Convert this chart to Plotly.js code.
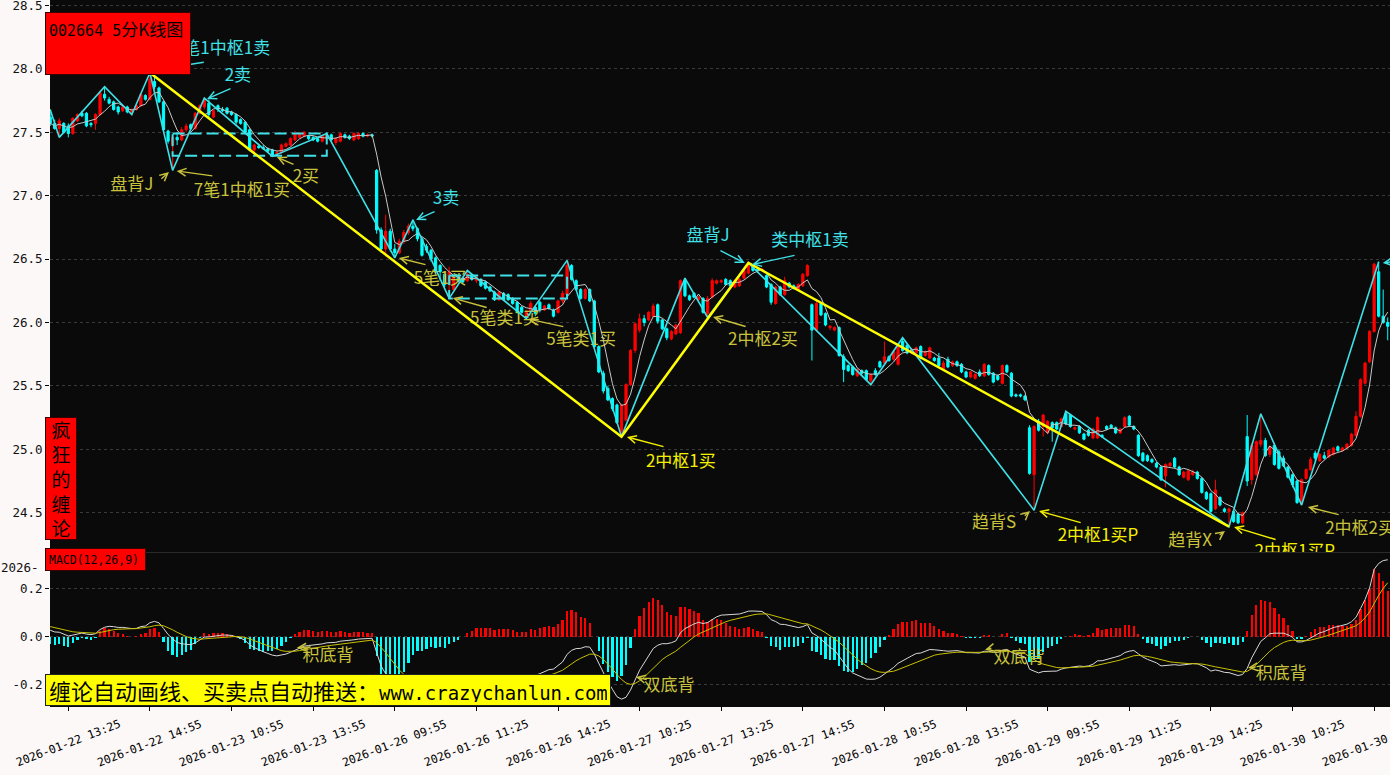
<!DOCTYPE html>
<html><head><meta charset="utf-8">
<script src="https://cdn.plot.ly/plotly-3.0.1.min.js"></script>
<style>html,body{margin:0;padding:0;background:#fcf8f7;}#chart{width:1390px;height:775px;}</style>
</head><body><div id="chart"></div>
<script>
// ---------------- DATA (5-minute bars, 002664, 2026-01-22 13:05 .. 2026-01-30 13:40) ----------------
const openP = [
27.62,27.57,27.53,27.57,27.55,27.49,27.59,27.65,27.65,27.57,27.57,27.64,27.80,27.76,27.74,27.70,27.67,27.70,27.66,27.68,27.71,27.79,27.76,27.90,
27.85,27.74,27.51,27.40,27.46,27.44,27.52,27.56,27.53,27.65,27.70,27.73,27.62,27.71,27.68,27.69,27.66,27.64,27.60,27.58,27.52,27.36,27.39,27.38,
27.37,27.36,27.33,27.34,27.39,27.40,27.44,27.46,27.47,27.47,27.46,27.45,27.43,27.45,27.48,27.42,27.43,27.48,27.47,27.44,27.45,27.49,27.47,27.48,
27.20,26.73,26.58,26.72,26.58,26.55,26.64,26.71,26.76,26.74,26.66,26.60,26.57,26.51,26.45,26.38,26.30,26.26,26.36,26.35,26.33,26.37,26.33,26.34,
26.32,26.28,26.24,26.18,26.23,26.22,26.19,26.16,26.12,26.05,26.09,26.12,26.16,26.10,26.14,26.10,26.08,26.17,26.22,26.45,26.33,26.26,26.19,26.26,
26.17,25.81,25.60,25.48,25.40,25.35,25.14,25.23,25.51,25.78,25.94,26.03,26.02,26.05,26.14,26.02,25.95,25.87,25.91,25.92,26.33,26.21,26.23,26.18,
26.19,26.07,26.20,26.31,26.32,26.34,26.33,26.28,26.29,26.35,26.39,26.44,26.42,26.41,26.37,26.30,26.15,26.28,26.22,26.31,26.29,26.26,26.29,26.37,
26.14,25.94,26.15,26.07,25.96,25.94,25.96,25.73,25.66,25.65,25.58,25.62,25.62,25.54,25.62,25.69,25.68,25.73,25.71,25.67,25.85,25.82,25.76,25.76,
25.81,25.74,25.72,25.72,25.72,25.63,25.71,25.66,25.69,25.67,25.61,25.57,25.56,25.61,25.58,25.66,25.60,25.58,25.52,25.66,25.60,25.43,25.43,25.42,
25.17,24.80,25.22,25.18,25.13,25.21,25.21,25.18,25.28,25.27,25.16,25.18,25.12,25.15,25.09,25.09,25.11,25.18,25.19,25.17,25.13,25.18,25.26,25.18,
25.11,24.97,24.95,24.92,24.89,24.86,24.79,24.87,24.93,24.86,24.78,24.76,24.80,24.82,24.77,24.66,24.65,24.53,24.62,24.53,24.51,24.51,24.49,24.42,
25.10,24.76,24.80,25.04,25.07,24.96,25.03,24.98,24.93,24.86,24.80,24.75,24.57,24.77,24.84,24.97,24.91,24.95,24.94,24.96,25.02,24.99,25.01,25.03,
25.11,25.26,25.52,25.69,25.93,26.40,26.05,26.00];
const highP = [
27.68,27.60,27.61,27.58,27.57,27.62,27.65,27.67,27.66,27.58,27.65,27.83,27.86,27.78,27.75,27.71,27.71,27.71,27.69,27.72,27.81,27.80,27.97,27.94,
27.86,27.75,27.52,27.47,27.50,27.54,27.57,27.57,27.66,27.72,27.77,27.76,27.68,27.72,27.70,27.70,27.67,27.65,27.61,27.59,27.53,27.41,27.41,27.40,
27.38,27.37,27.36,27.41,27.42,27.46,27.51,27.50,27.51,27.48,27.47,27.46,27.48,27.49,27.49,27.46,27.50,27.49,27.48,27.50,27.50,27.50,27.49,27.49,
27.21,26.75,26.85,26.74,26.62,26.66,26.73,26.78,26.81,26.75,26.67,26.62,26.58,26.52,26.46,26.40,26.44,26.37,26.37,26.36,26.41,26.38,26.37,26.35,
26.33,26.29,26.25,26.25,26.24,26.23,26.20,26.17,26.13,26.10,26.17,26.13,26.17,26.14,26.15,26.11,26.18,26.25,26.49,26.46,26.34,26.27,26.27,26.27,
26.18,25.82,25.62,25.50,25.41,25.36,25.36,25.52,25.79,26.00,26.07,26.06,26.09,26.15,26.15,26.03,25.96,25.94,25.99,26.34,26.35,26.22,26.24,26.21,
26.20,26.21,26.35,26.34,26.34,26.35,26.34,26.34,26.35,26.42,26.47,26.45,26.43,26.43,26.38,26.31,26.29,26.29,26.36,26.32,26.30,26.31,26.39,26.46,
26.15,26.17,26.16,26.08,25.98,25.97,25.97,25.75,25.67,25.66,25.64,25.63,25.63,25.60,25.64,25.70,25.85,25.74,25.78,25.83,25.88,25.83,25.80,25.81,
25.82,25.78,25.81,25.73,25.76,25.70,25.73,25.70,25.70,25.68,25.62,25.62,25.60,25.63,25.68,25.67,25.61,25.59,25.67,25.67,25.61,25.44,25.44,25.43,
25.19,25.19,25.24,25.28,25.23,25.22,25.22,25.25,25.30,25.28,25.18,25.19,25.13,25.16,25.17,25.26,25.12,25.19,25.20,25.18,25.17,25.26,25.27,25.19,
25.12,24.98,24.96,24.93,24.90,24.87,24.89,24.90,24.94,24.87,24.83,24.84,24.84,24.83,24.78,24.67,24.66,24.76,24.63,24.54,24.54,24.52,24.50,24.51,
25.27,25.05,25.07,25.28,25.09,25.03,25.05,25.00,24.95,24.87,24.81,24.76,24.77,24.85,24.94,24.99,24.97,24.98,25.00,25.02,25.03,25.02,25.05,25.13,
25.30,25.56,25.69,25.94,26.47,26.48,26.26,26.04];
const lowP = [
27.55,27.52,27.46,27.49,27.46,27.48,27.58,27.62,27.54,27.54,27.52,27.63,27.75,27.72,27.67,27.64,27.66,27.65,27.64,27.67,27.70,27.75,27.75,27.84,
27.73,27.51,27.41,27.20,27.40,27.43,27.50,27.52,27.52,27.64,27.68,27.62,27.61,27.66,27.66,27.64,27.63,27.56,27.56,27.49,27.35,27.34,27.37,27.36,
27.34,27.31,27.32,27.33,27.38,27.39,27.43,27.45,27.46,27.44,27.43,27.42,27.42,27.44,27.43,27.40,27.42,27.45,27.44,27.43,27.44,27.46,27.46,27.46,
26.70,26.55,26.52,26.56,26.51,26.54,26.62,26.69,26.72,26.64,26.52,26.55,26.48,26.38,26.33,26.28,26.19,26.25,26.32,26.31,26.32,26.33,26.31,26.28,
26.26,26.24,26.17,26.17,26.17,26.17,26.14,26.07,26.07,26.03,26.08,26.05,26.08,26.09,26.10,26.04,26.07,26.15,26.21,26.33,26.25,26.18,26.18,26.16,
25.80,25.60,25.44,25.38,25.30,25.20,25.10,25.22,25.50,25.76,25.92,25.97,26.01,26.04,25.99,25.94,25.86,25.86,25.90,25.91,26.20,26.17,26.19,26.17,
26.07,26.04,26.19,26.30,26.31,26.29,26.28,26.27,26.28,26.34,26.38,26.40,26.39,26.40,26.27,26.14,26.14,26.21,26.21,26.27,26.26,26.25,26.28,26.36,
25.70,25.93,26.05,25.97,25.94,25.93,25.73,25.53,25.61,25.58,25.57,25.58,25.54,25.51,25.58,25.64,25.67,25.69,25.70,25.66,25.77,25.75,25.75,25.75,
25.71,25.73,25.71,25.69,25.65,25.62,25.64,25.65,25.65,25.60,25.56,25.56,25.55,25.57,25.57,25.58,25.52,25.54,25.51,25.60,25.41,25.41,25.41,25.38,
24.80,24.52,25.14,25.10,25.12,25.06,25.15,25.17,25.19,25.17,25.15,25.12,25.07,25.10,25.08,25.08,25.09,25.15,25.16,25.12,25.12,25.17,25.18,25.15,
24.94,24.90,24.90,24.89,24.85,24.75,24.70,24.86,24.85,24.79,24.77,24.75,24.79,24.76,24.65,24.60,24.50,24.52,24.55,24.50,24.39,24.42,24.41,24.41,
24.71,24.72,24.79,25.02,24.94,24.94,24.87,24.84,24.86,24.77,24.70,24.57,24.56,24.76,24.83,24.91,24.90,24.92,24.93,24.95,24.98,24.98,25.00,25.02,
25.10,25.25,25.51,25.68,25.92,26.04,25.99,25.86];
const closeP = [
27.57,27.53,27.59,27.50,27.49,27.61,27.64,27.63,27.55,27.56,27.64,27.81,27.77,27.73,27.68,27.66,27.70,27.66,27.68,27.71,27.80,27.76,27.92,27.86,
27.74,27.52,27.43,27.46,27.44,27.52,27.55,27.53,27.65,27.71,27.75,27.64,27.67,27.68,27.67,27.65,27.64,27.58,27.57,27.50,27.36,27.40,27.38,27.37,
27.35,27.32,27.34,27.40,27.41,27.45,27.49,27.49,27.50,27.45,27.44,27.43,27.47,27.48,27.44,27.45,27.49,27.46,27.45,27.49,27.49,27.47,27.48,27.47,
26.73,26.58,26.72,26.58,26.55,26.64,26.71,26.76,26.74,26.66,26.53,26.57,26.50,26.40,26.40,26.30,26.40,26.36,26.33,26.32,26.38,26.34,26.36,26.29,
26.27,26.25,26.18,26.24,26.18,26.18,26.15,26.08,26.08,26.09,26.15,26.07,26.10,26.13,26.11,26.05,26.17,26.23,26.45,26.34,26.26,26.19,26.26,26.17,
25.81,25.61,25.46,25.39,25.32,25.21,25.35,25.51,25.78,25.99,26.03,26.00,26.08,26.13,26.01,25.95,25.88,25.93,25.98,26.33,26.21,26.18,26.20,26.20,
26.08,26.19,26.33,26.33,26.33,26.30,26.29,26.33,26.34,26.41,26.45,26.41,26.41,26.42,26.28,26.16,26.28,26.22,26.33,26.28,26.27,26.30,26.38,26.45,
25.94,26.15,26.06,25.98,25.97,25.96,25.74,25.63,25.62,25.59,25.63,25.60,25.55,25.59,25.59,25.65,25.73,25.70,25.77,25.82,25.78,25.76,25.79,25.80,
25.72,25.77,25.80,25.70,25.66,25.68,25.65,25.69,25.66,25.61,25.57,25.61,25.59,25.58,25.67,25.59,25.53,25.55,25.66,25.61,25.42,25.42,25.42,25.39,
24.81,25.18,25.15,25.27,25.22,25.17,25.16,25.24,25.20,25.18,25.17,25.13,25.08,25.11,25.16,25.25,25.10,25.16,25.17,25.13,25.16,25.25,25.19,25.16,
24.95,24.91,24.91,24.90,24.86,24.76,24.88,24.89,24.86,24.80,24.82,24.83,24.82,24.77,24.66,24.61,24.51,24.68,24.56,24.51,24.53,24.43,24.42,24.50,
24.75,25.03,25.06,25.07,24.95,25.02,24.88,24.85,24.87,24.78,24.72,24.58,24.76,24.84,24.92,24.93,24.96,24.93,24.99,25.01,24.99,25.01,25.04,25.12,
25.26,25.55,25.68,25.93,26.46,26.05,26.00,25.97];

// x-axis tick positions (bar index) and labels
const tickIdx = [4,22,40,58,76,94,112,130,148,166,184,202,220,238,256,274,292];
const tickLabels = ['2026-01-22 13:25','2026-01-22 14:55','2026-01-23 10:55','2026-01-23 13:55','2026-01-26 09:55',
 '2026-01-26 11:25','2026-01-26 14:25','2026-01-27 10:25','2026-01-27 13:25','2026-01-27 14:55','2026-01-28 10:55',
 '2026-01-28 13:55','2026-01-29 09:55','2026-01-29 11:25','2026-01-29 14:25','2026-01-30 10:25','2026-01-30 13:25'];
const priceTicks = [24.5,25.0,25.5,26.0,26.5,27.0,27.5,28.0,28.5];
const macdTicks = [-0.2,0.0,0.2];
const macdTickText = ['-0.2','0.0','0.2'];

// 笔 (strokes): vertex bar index and price
const biIdx   = [0,2,12,18,22,27,34,49,61,76,80,88,92,105,114,126,140,145,154,181,188,217,224,260,267,276,293];
const biPrice = [27.68,27.46,27.86,27.64,27.97,27.20,27.77,27.31,27.49,26.51,26.81,26.19,26.41,26.03,26.49,25.10,26.35,26.04,26.47,25.51,25.88,24.52,25.30,24.39,25.28,24.56,26.48];
// 线段 (segments)
const segIdx   = [22,126,154,260];
const segPrice = [27.97,25.10,26.47,24.39];
// 中枢 (pivot zones)
const zsStart = [27,88];
const zsEnd   = [61,114];
const zsLow   = [27.315,26.19];
const zsHigh  = [27.49,26.37];

// MACD warm-up state before the first visible bar
const ema12Start = 27.600, ema26Start = 27.568, deaStart = 0.046;
const HIST_SCALE = 2;

// chart labels
const mainLabels = ['7笔1中枢1卖','2卖','3卖','盘背J','类中枢1卖','盘背J','7笔1中枢1买','2买','5笔1买','5笔类1买','5笔类1买','2中枢1买','2中枢2买','趋背S','2中枢1买P','趋背X','2中枢1买P','2中枢2买'];
const mainLabelX = [37.9,41.4,87.3,145.1,167.6,18.0,42.3,56.4,86.0,100.3,117.1,139.1,157.2,208.2,231.1,251.4,274.5,288.9];
const mainLabelY = [28.149,27.936,26.966,26.674,26.635,27.077,27.029,27.140,26.335,26.020,25.854,24.892,25.854,24.411,24.308,24.269,24.182,24.364];
const mainLabelC = ['c','c','c','c','c','k','k','k','k','k','k','y','k','k','y','k','y','k'];
const macdLabels = ['积底背','双底背','双底背','积底背'];
const macdLabelX = [61.3,136.5,213.7,271.5];
const macdLabelY = [-0.083,-0.208,-0.092,-0.158];
// arrows: tail(x,y) -> head(x,y), color key, panel
const arrows = [
 [34.2,28.054,22.7,27.99,'c',1],[40.1,27.849,34.6,27.763,'c',1],[85.1,26.880,80.7,26.809,'c',1],
 [147.5,26.572,153.2,26.469,'c',1],[164.5,26.532,154.8,26.457,'c',1],[297.7,26.488,293.9,26.469,'c',1],
 [24.2,27.124,26.2,27.187,'k',1],[36.1,27.155,27.9,27.195,'k',1],[54.0,27.242,50.0,27.305,'k',1],
 [83.1,26.454,76.9,26.509,'k',1],[96.6,26.115,88.8,26.193,'k',1],[113.5,25.965,105.4,26.028,'k',1],
 [135.6,25.018,127.2,25.097,'y',1],[153.7,25.965,146.2,26.044,'k',1],[214.6,24.466,216.1,24.513,'k',1],
 [227.6,24.419,218.1,24.513,'y',1],[257.6,24.316,259.1,24.356,'k',1],[270.6,24.285,261.1,24.387,'y',1],
 [284.5,24.482,277.4,24.545,'k',1],
 [57.8,-0.0417,54.4,-0.0458,'k',2],[131.9,-0.179,129.2,-0.167,'k',2],[207.9,-0.046,206.2,-0.054,'k',2],[266.2,-0.125,264.2,-0.129,'k',2]
];

// ---------------- DERIVED INDICATORS ----------------
const xs = closeP.map((_, i) => i);
const ma5 = closeP.map((c, i) => { const s = Math.max(0, i - 4); let t = 0; for (let k = s; k <= i; k++) t += closeP[k]; return t / (i - s + 1); });
let e12 = ema12Start, e26 = ema26Start, dea = deaStart;
const dif = [], deaArr = [], hist = [];
for (const c of closeP) {
  e12 += (c - e12) * 2 / 13; e26 += (c - e26) * 2 / 27;
  const d = e12 - e26; dea += (d - dea) * 2 / 10;
  dif.push(d); deaArr.push(dea); hist.push(HIST_SCALE * (d - dea));
}

// ---------------- STYLE ----------------
const COL = {c:'#3fe0e6', k:'#c9c23c', y:'#f5f000'};
const CJK = 'Noto Sans CJK SC';
const MONO = 'DejaVu Sans Mono';

const traces = [];
traces.push({type:'scatter', mode:'text', x:mainLabelX, y:mainLabelY, text:mainLabels, textposition:'middle center',
  textfont:{family:CJK, size:17, color:mainLabelC.map(k=>COL[k])}, xaxis:'x', yaxis:'y', hoverinfo:'skip'});
traces.push({type:'candlestick', x:xs, open:openP, high:highP, low:lowP, close:closeP, xaxis:'x', yaxis:'y',
  increasing:{line:{color:'#ff0000', width:1}, fillcolor:'#ff0000'},
  decreasing:{line:{color:'#00ffff', width:1}, fillcolor:'#00ffff'}, whiskerwidth:0, hoverinfo:'skip'});
traces.push({type:'scatter', mode:'lines', x:xs, y:ma5, line:{color:'#c8c8c8', width:1}, xaxis:'x', yaxis:'y', hoverinfo:'skip'});
traces.push({type:'scatter', mode:'lines', x:biIdx, y:biPrice, line:{color:'#3fe0e6', width:1.6}, xaxis:'x', yaxis:'y', hoverinfo:'skip'});
for (let z = 0; z < zsStart.length; z++) {
  traces.push({type:'scatter', mode:'lines', x:[zsStart[z], zsEnd[z], zsEnd[z], zsStart[z], zsStart[z]],
    y:[zsHigh[z], zsHigh[z], zsLow[z], zsLow[z], zsHigh[z]], line:{color:'#3fe0e6', width:2, dash:'12px,5px'},
    xaxis:'x', yaxis:'y', hoverinfo:'skip'});
}
traces.push({type:'scatter', mode:'lines', x:segIdx, y:segPrice, line:{color:'#ffff00', width:2.5}, xaxis:'x', yaxis:'y', hoverinfo:'skip'});
traces.push({type:'bar', x:xs, y:hist, width:0.5, marker:{color:hist.map(v => v >= 0 ? '#ff0000' : '#00ffff'), line:{width:0}},
  xaxis:'x2', yaxis:'y2', hoverinfo:'skip'});
traces.push({type:'scatter', mode:'lines', x:xs, y:dif, line:{color:'#d8d8d8', width:1}, xaxis:'x2', yaxis:'y2', hoverinfo:'skip'});
traces.push({type:'scatter', mode:'lines', x:xs, y:deaArr, line:{color:'#c8c000', width:1}, xaxis:'x2', yaxis:'y2', hoverinfo:'skip'});
traces.push({type:'scatter', mode:'text', x:macdLabelX, y:macdLabelY, text:macdLabels, textposition:'middle center',
  textfont:{family:CJK, size:17, color:COL.k}, xaxis:'x2', yaxis:'y2', hoverinfo:'skip'});

// ---------------- LAYOUT ----------------
const W = 1390, H = 775, ML = 50, MB = 69;
const PW = W - ML, PH = H - MB;
const px = x => (x - ML) / PW;      // pixel -> paper x
const py = y => (PH - y) / PH;      // pixel -> paper y

const ann = [];
arrows.forEach(a => {
  const xr = a[5] === 1 ? 'x' : 'x2', yr = a[5] === 1 ? 'y' : 'y2';
  ann.push({xref:xr, yref:yr, axref:xr, ayref:yr, x:a[2], y:a[3], ax:a[0], ay:a[1], text:'', showarrow:true,
    arrowhead:5, arrowsize:1.1, arrowwidth:1.4, arrowcolor:COL[a[4]], standoff:0, startstandoff:0});
});
tickIdx.forEach((t, k) => {
  ann.push({xref:'x2', yref:'paper', x:t, y:py(743), text:tickLabels[k], textangle:-21, showarrow:false,
    xanchor:'center', yanchor:'middle', font:{family:MONO, size:11.5, color:'#000'}});
});
ann.push({xref:'paper', yref:'paper', x:px(41), y:py(567), text:'2026-', showarrow:false, xanchor:'right', yanchor:'middle',
  font:{family:MONO, size:12.5, color:'#111'}});
ann.push({xref:'paper', yref:'paper', x:px(45), y:py(12), xanchor:'left', yanchor:'top',
  text:'<span style="font-family:DejaVu Sans Mono;font-size:15px">002664 5</span>分K线图',
  font:{family:CJK, size:17, color:'#000'}, bgcolor:'#ff0000', bordercolor:'#3a0000', borderwidth:1, borderpad:3,
  width:138, height:55, align:'left', valign:'top', showarrow:false});
ann.push({xref:'paper', yref:'paper', x:px(61), y:py(478.5), xanchor:'center', yanchor:'middle', text:'疯<br>狂<br>的<br>缠<br>论',
  font:{family:CJK, size:19, color:'#000'}, bgcolor:'#ff0000', bordercolor:'#3a0000', borderwidth:1, borderpad:1,
  width:28, height:119, align:'center', valign:'middle', showarrow:false});
ann.push({xref:'paper', yref:'paper', x:px(45), y:py(548), xanchor:'left', yanchor:'top', text:'MACD(12,26,9)',
  font:{family:MONO, size:11.5, color:'#000'}, bgcolor:'#ff0000', bordercolor:'#3a0000', borderwidth:1, borderpad:3,
  width:93, height:15, align:'left', valign:'middle', showarrow:false});
ann.push({xref:'paper', yref:'paper', x:px(45), y:py(674), xanchor:'left', yanchor:'top',
  text:'缠论自动画线、买卖点自动推送：<span style="font-family:DejaVu Sans Mono;font-size:19px">www.crazychanlun.com</span>',
  font:{family:CJK, size:22, color:'#000'}, bgcolor:'#ffff00', bordercolor:'#222', borderwidth:1, borderpad:3,
  width:558, height:24, align:'left', valign:'middle', showarrow:false});

const split = (PH - 552.5) / PH;
const yMainTop = 28.5 + 5.5 / 126.8, yMainBot = 28.5 - (552.5 - 5.5) / 126.8;
const layout = {
  width:W, height:H, margin:{l:ML, r:0, t:0, b:MB, pad:0},
  paper_bgcolor:'#fcf8f7', plot_bgcolor:'#0a0a0a', showlegend:false, hovermode:false,
  xaxis:{domain:[0,1], anchor:'y', range:[-0.04, 295.5], showticklabels:false, showgrid:false, zeroline:false,
    rangeslider:{visible:false}, showline:false, fixedrange:true},
  yaxis:{domain:[split, 1], anchor:'x', range:[yMainBot, yMainTop], tickvals:priceTicks, ticktext:priceTicks.map(v=>v.toFixed(1)),
    ticks:'outside', ticklen:4, tickcolor:'#000', showgrid:true, gridcolor:'#3a3a3a', griddash:'dot', gridwidth:1, zeroline:false,
    ticklabeloverflow:'allow', tickfont:{family:MONO, size:12.5, color:'#111'}, fixedrange:true},
  xaxis2:{domain:[0,1], anchor:'y2', range:[-0.04, 295.5], tickvals:tickIdx, ticktext:tickIdx.map(()=>''), ticks:'outside',
    ticklen:4, tickcolor:'#000', showgrid:false, zeroline:false, showline:true, linecolor:'#0a0a0a', mirror:false, fixedrange:true},
  yaxis2:{domain:[0, split], anchor:'x2', range:[-0.2875, 0.35], tickvals:macdTicks, ticktext:macdTickText,
    ticks:'outside', ticklen:4, tickcolor:'#000', showgrid:true, gridcolor:'#3a3a3a', griddash:'dot', zeroline:false,
    ticklabeloverflow:'allow', tickfont:{family:MONO, size:12.5, color:'#111'}, fixedrange:true},
  shapes:[{type:'line', xref:'paper', yref:'paper', x0:0, x1:1, y0:split, y1:split, line:{color:'#2a2a2a', width:1}}],
  annotations: ann,
  bargap:0
};
Plotly.newPlot('chart', traces, layout, {displayModeBar:false, staticPlot:true});
</script>
</body></html>
